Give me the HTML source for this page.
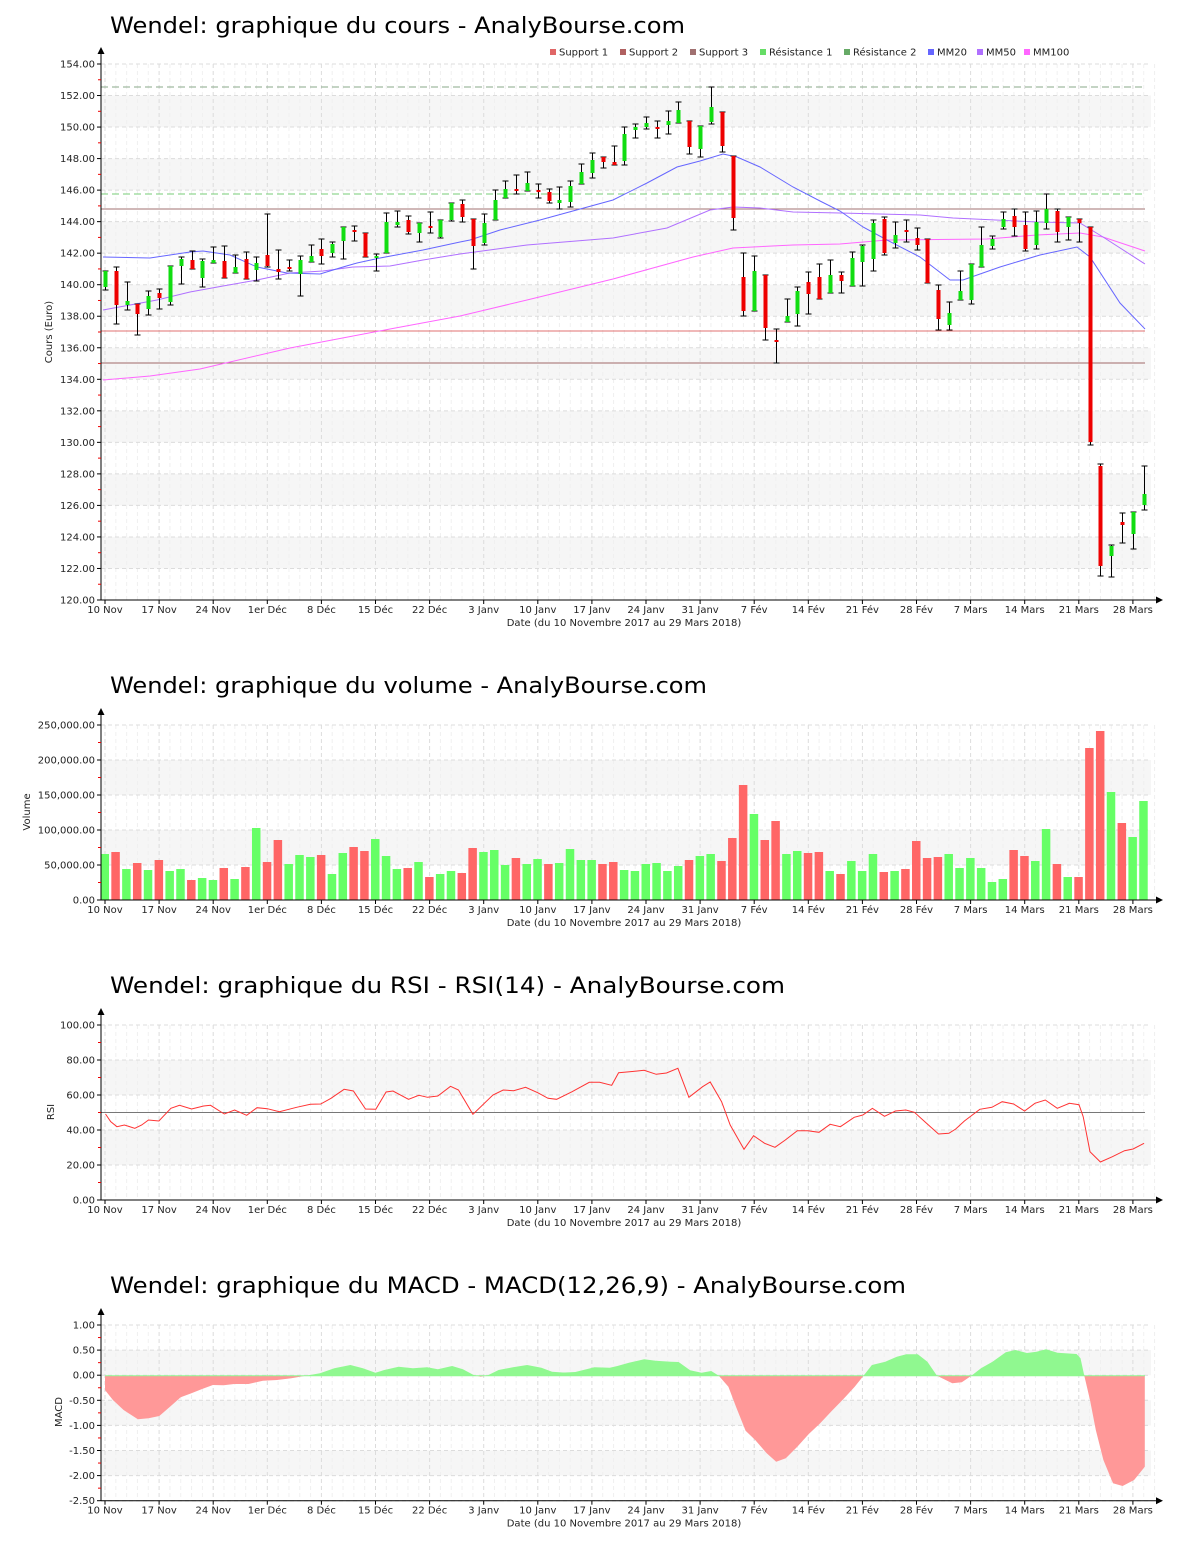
<!DOCTYPE html>
<html><head><meta charset="utf-8"><style>
html,body{margin:0;padding:0;background:#fff;}
svg{display:block;font-family:"DejaVu Sans","Liberation Sans",sans-serif;}
</style></head><body>
<svg id="s" width="1200" height="1550" viewBox="0 0 1200 1550" xmlns="http://www.w3.org/2000/svg"></svg>
<script>
const S=document.getElementById('s');let h='';
const X=i=>105+10.82*i;
const dates=[[0,'10 Nov'],[5,'17 Nov'],[10,'24 Nov'],[15,'1er Déc'],[20,'8 Déc'],[25,'15 Déc'],[30,'22 Déc'],[35,'3 Janv'],[40,'10 Janv'],[45,'17 Janv'],[50,'24 Janv'],[55,'31 Janv'],[60,'7 Fév'],[65,'14 Fév'],[70,'21 Fév'],[75,'28 Fév'],[80,'7 Mars'],[85,'14 Mars'],[90,'21 Mars'],[95,'28 Mars']];
function chart(c){
 const Y=v=>c.y0+(v-c.v0)*(c.y1-c.y0)/(c.v1-c.v0);
 const top=c.y1,bot=c.y0;
 c.bands.forEach(b=>{h+=`<rect x="101" y="${Y(b[1])}" width="1050" height="${Y(b[0])-Y(b[1])}" fill="#f6f6f6"/>`;});
 for(let i=0;i<=97;i++){if(i%5==0)continue;h+=`<line x1="${X(i)}" y1="${top}" x2="${X(i)}" y2="${bot}" stroke="#f0f0f0" stroke-dasharray="4,3"/>`;}
 dates.forEach(d=>{h+=`<line x1="${X(d[0])}" y1="${top}" x2="${X(d[0])}" y2="${bot}" stroke="#dcdcdc" stroke-dasharray="4,3"/>`;});
 for(let v=c.v0;v<=c.v1+1e-9;v+=c.step){h+=`<line x1="101" y1="${Y(v)}" x2="1151" y2="${Y(v)}" stroke="#dcdcdc" stroke-dasharray="4,3"/>`;}
 c.draw(Y);
 h+=`<line x1="101" y1="${top-12}" x2="101" y2="${bot}" stroke="#000"/>`;
 h+=`<polygon points="101,${top-17} 97.5,${top-10} 104.5,${top-10}" fill="#000"/>`;
 h+=`<line x1="101" y1="${bot}" x2="1157" y2="${bot}" stroke="#000"/>`;
 h+=`<polygon points="1163,${bot} 1156,${bot-3.5} 1156,${bot+3.5}" fill="#000"/>`;
 for(let v=c.v0;v<=c.v1+1e-9;v+=c.step){const y=Y(v);h+=`<line x1="97" y1="${y}" x2="101" y2="${y}" stroke="#000"/>`;
  h+=`<text x="95" y="${y+3.5}" font-size="10" text-anchor="end" fill="#222">${c.fmt(v)}</text>`;
  const m=v+c.step/2; if(m<c.v1){h+=`<line x1="98" y1="${Y(m)}" x2="101" y2="${Y(m)}" stroke="#e00"/>`;}}
 dates.forEach(d=>{h+=`<line x1="${X(d[0])}" y1="${bot}" x2="${X(d[0])}" y2="${bot+4}" stroke="#000"/>`;
  h+=`<text x="${X(d[0])}" y="${bot+13}" font-size="10" text-anchor="middle" fill="#222">${d[1]}</text>`;});
 h+=`<text x="624" y="${bot+26}" font-size="10" text-anchor="middle" fill="#222">Date (du 10 Novembre 2017 au 29 Mars 2018)</text>`;
 h+=`<text transform="translate(${c.ax},${c.ay}) rotate(-90)" font-size="10" text-anchor="middle" fill="#222">${c.yt}</text>`;
 h+=`<text x="110" y="${c.ty}" font-size="22" fill="#000" textLength="${c.tw}" lengthAdjust="spacingAndGlyphs">${c.title}</text>`;
}
const C=[[271,287,271,290,'g'],[271,305,267,324,'r'],[301,305,282,310,'g'],[304,314,304,335,'r'],[296,309,291,315,'g'],[293,298,289,309,'r'],[266,302,266,305,'g'],[259,266,257,284,'g'],[260,269,251,269,'r'],[261,278,259,287,'g'],[260,263,247,263,'g'],[261,278,246,278,'r'],[267,273,255,273,'g'],[259,279,252,279,'r'],[263,270,257,281,'g'],[255,266,214,267,'r'],[269,272,250,279,'r'],[267,269,260,271,'r'],[260,274,256,296,'g'],[256,262,245,262,'g'],[249,256,239,264,'r'],[244,253,242,257,'g'],[227,241,227,259,'g'],[230,232,226,241,'r'],[233,257,233,257,'r'],[256,258,254,271,'g'],[222,253,213,253,'g'],[222,225,211,227,'g'],[220,232,216,234,'r'],[223,233,223,242,'g'],[226,228,212,233,'r'],[220,237,220,238,'g'],[203,220,203,221,'g'],[204,217,200,222,'r'],[219,246,219,269,'r'],[223,243,214,245,'g'],[200,220,190,220,'g'],[189,198,181,198,'g'],[189,191,175,194,'r'],[183,191,172,191,'g'],[190,191,184,198,'r'],[192,201,189,203,'r'],[200,203,187,209,'g'],[186,202,181,207,'g'],[172,184,164,184,'g'],[160,173,153,178,'g'],[157,162,157,168,'r'],[162,165,146,165,'r'],[134,161,127,165,'g'],[127,130,124,138,'g'],[123,127,117,129,'g'],[127,128,121,138,'r'],[121,125,111,134,'g'],[110,123,102,123,'g'],[121,147,121,154,'r'],[126,149,126,157,'g'],[107,122,87,124,'g'],[112,146,112,152,'r'],[156,218,156,230,'r'],[277,311,253,316,'r'],[271,311,256,311,'g'],[275,328,275,340,'r'],[340,342,329,363,'r'],[316,322,299,322,'g'],[291,314,287,326,'g'],[282,294,272,314,'r'],[277,299,264,299,'r'],[275,293,260,293,'g'],[275,281,272,293,'r'],[258,286,252,286,'g'],[246,262,245,286,'g'],[223,259,220,271,'g'],[219,253,217,255,'r'],[235,243,222,248,'g'],[230,232,220,242,'r'],[238,245,228,250,'r'],[239,283,239,283,'r'],[290,319,285,330,'r'],[313,325,302,330,'g'],[291,300,271,300,'g'],[264,300,264,304,'g'],[245,267,227,267,'g'],[239,246,236,249,'g'],[219,227,212,229,'g'],[216,227,209,236,'r'],[225,249,212,251,'r'],[222,245,211,249,'g'],[209,223,194,229,'g'],[211,232,209,242,'r'],[217,227,217,240,'g'],[219,223,219,242,'r'],[227,442,227,445,'r'],[466,566,464,576,'r'],[546,556,545,577,'g'],[522,525,513,543,'r'],[512,534,512,549,'g'],[494,505,466,510,'g']];
const mm20=[[103,257],[150,258],[190,252],[203,251],[230,255],[257,267],[287,273],[320,274],[343,267],[357,263],[380,258],[423,250],[460,242],[470,240],[500,230],[540,220],[613,200],[647,183],[677,167],[700,161],[723,154],[737,157],[760,167],[793,187],[820,201],[840,211],[863,227],[887,240],[920,257],[950,280],[963,280],[1000,267],[1040,255],[1077,247],[1090,257],[1120,303],[1145,329]];
const mm50=[[103,310],[157,300],[190,292],[223,286],[257,280],[290,273],[323,271],[353,267],[390,266],[423,260],[460,254],[527,245],[613,238],[667,228],[710,210],[733,207],[760,208],[793,212],[840,213],[920,215],[953,218],[1037,222],[1080,223],[1103,237],[1145,264]];
const mm100=[[103,380],[150,376],[200,369],[290,348],[390,329],[460,316],[527,300],[613,279],[693,257],[733,248],[793,245],[840,244],[887,240],[987,239],[1037,235],[1080,233],[1103,237],[1145,251]];
const pl=a=>a.map(p=>p.join(',')).join(' ');
chart({y0:600,v0:120,y1:64,v1:154,step:2,fmt:v=>v.toFixed(2),bands:[[150,152],[146,148],[142,144],[138,140],[134,136],[130,132],[126,128],[122,124]],
 ax:52,ay:332,yt:'Cours (Euro)',ty:33,tw:575,title:'Wendel: graphique du cours - AnalyBourse.com',
 draw:Y=>{
  h+=`<line x1="101" y1="87" x2="1145" y2="87" stroke="#8aa88a" stroke-dasharray="7,4"/>`;
  h+=`<line x1="101" y1="194" x2="1145" y2="194" stroke="#77cc77" stroke-dasharray="7,4"/>`;
  h+=`<line x1="101" y1="209" x2="1145" y2="209" stroke="#a07070"/>`;
  h+=`<line x1="101" y1="331" x2="1145" y2="331" stroke="#e07070"/>`;
  h+=`<line x1="101" y1="363" x2="1145" y2="363" stroke="#a06868"/>`;
  h+=`<polyline points="${pl(mm100)}" fill="none" stroke="#ff66ff"/>`;
  h+=`<polyline points="${pl(mm50)}" fill="none" stroke="#b070ff"/>`;
  h+=`<polyline points="${pl(mm20)}" fill="none" stroke="#6666ff"/>`;
  C.forEach((c,i)=>{const x=Math.round(X(i))+0.5;
   h+=`<line x1="${x}" y1="${c[2]}" x2="${x}" y2="${c[3]}" stroke="#000"/>`;
   h+=`<line x1="${x-3}" y1="${c[2]}" x2="${x+3}" y2="${c[2]}" stroke="#000"/><line x1="${x-3}" y1="${c[3]}" x2="${x+3}" y2="${c[3]}" stroke="#000"/>`;
   h+=`<rect x="${x-2}" y="${c[0]}" width="4" height="${Math.max(2,c[1]-c[0])}" fill="${c[4]=='g'?'#11dd11':'#ee0000'}"/>`;});
  const lg=[[550,'#e06666','Support 1'],[620,'#b06060','Support 2'],[690,'#a07070','Support 3'],[760,'#66dd66','Résistance 1'],[844,'#66aa66','Résistance 2'],[928,'#6666ff','MM20'],[977,'#b070ff','MM50'],[1024,'#ff66ff','MM100']];
  lg.forEach(l=>{h+=`<rect x="${l[0]}" y="49" width="6" height="6" fill="${l[1]}"/><text x="${l[0]+9}" y="55.5" font-size="10" fill="#222">${l[2]}</text>`;});
 }});
const V=[[432,'g'],[426,'r'],[477,'g'],[459,'r'],[480,'g'],[450,'r'],[483,'g'],[477,'g'],[510,'r'],[504,'g'],[510,'g'],[474,'r'],[507,'g'],[471,'r'],[354,'g'],[456,'r'],[390,'r'],[462,'g'],[435,'g'],[441,'g'],[435,'r'],[492,'g'],[429,'g'],[411,'r'],[423,'r'],[387,'g'],[438,'g'],[477,'g'],[474,'r'],[456,'g'],[501,'r'],[492,'g'],[483,'g'],[489,'r'],[414,'r'],[426,'g'],[420,'g'],[465,'g'],[444,'r'],[462,'g'],[447,'g'],[462,'r'],[459,'g'],[417,'g'],[450,'g'],[450,'g'],[462,'r'],[456,'r'],[480,'g'],
[483,'g'],[462,'g'],[459,'g'],[483,'g'],[468,'g'],[450,'r'],[438,'g'],[432,'g'],[453,'r'],[384,'r'],[225,'r'],[312,'g'],[390,'r'],[333,'r'],[432,'g'],[423,'g'],[429,'r'],[426,'r'],[483,'g'],[492,'r'],[453,'g'],[483,'g'],[432,'g'],[486,'r'],[483,'g'],[477,'r'],[393,'r'],[444,'r'],[441,'r'],[432,'g'],[474,'g'],[444,'g'],[474,'g'],[516,'g'],[507,'g'],[420,'r'],[438,'r'],[453,'g'],[357,'g'],[462,'r'],[501,'g'],[501,'r'],[114,'r'],[63,'r'],[246,'g'],[339,'r'],[381,'g'],[273,'g']];
chart({y0:900,v0:0,y1:725,v1:250000,step:50000,fmt:v=>v.toLocaleString('en-US')+'.00',bands:[[150000,200000],[50000,100000]],
 ax:30,ay:812,yt:'Volume',ty:693,tw:597,title:'Wendel: graphique du volume - AnalyBourse.com',
 draw:Y=>{V.forEach((v,i)=>{const y=710+v[0]/3;h+=`<rect x="${X(i)-4.5}" y="${y}" width="8.5" height="${900-y}" fill="${v[1]=='g'?'#66ff66':'#ff6666'}"/>`;});}});
const r1=[[45,312],[60,335],[78,350],[100,345],[130,355],[150,345],[170,330],[200,333],[235,295],[260,286],[295,297],[330,288],[350,286],[390,312],[420,300],[455,316],[485,293],[515,296],[550,305],[600,292],[640,283],[670,282],[700,265],[738,238],[765,243],[800,297],[830,298],[860,246],[880,243],[925,268],[955,256],[980,262],[1010,258],[1047,229],[1070,240],[1112,313],[1170,255],[1200,240],[1230,242],[1265,232],[1300,248],[1330,265],[1355,268],[1400,245],[1450,217],[1480,217],[1515,226],[1535,188]].map(p=>[90+p[0]/2.904,1010+p[1]/3]);
const r2=[[20,186],[70,181],[105,193],[135,189],[168,175],[200,262],[240,230],[262,216],[295,275],[320,345],[360,418],[388,377],[420,400],[450,412],[480,390],[515,362],[545,362],[578,367],[610,343],[640,350],[680,322],[705,315],[733,295],[768,319],[800,303],[830,300],[855,307],[890,340],[925,372],[955,370],[975,357],[1000,333],[1045,298],[1080,292],[1110,275],[1143,282],[1175,303],[1205,280],[1235,270],[1270,295],[1305,280],[1333,284],[1345,320],[1365,425],[1395,456],[1430,440],[1465,422],[1490,417],[1522,400]].map(p=>[620+p[0]/2.904,1010+p[1]/3]);
chart({y0:1200,v0:0,y1:1025,v1:100,step:20,fmt:v=>v.toFixed(2),bands:[[60,80],[20,40]],
 ax:54,ay:1112,yt:'RSI',ty:993,tw:675,title:'Wendel: graphique du RSI - RSI(14) - AnalyBourse.com',
 draw:Y=>{h+=`<line x1="101" y1="1112.5" x2="1145" y2="1112.5" stroke="#777"/>`;
  h+=`<polyline points="${pl(r1.concat(r2).map(p=>[p[0].toFixed(1),p[1].toFixed(1)]))}" fill="none" stroke="#ff3333"/>`;}});
const m1=[[238,240],[260,270],[290,300],[330,328],[360,325],[390,318],[420,290],[450,262],[480,250],[510,237],[540,225],[570,226],[600,222],[640,222],[680,212],[720,210],[760,205],[800,197],[840,190],[880,175],[925,165],[960,175],[995,188],[1020,180],[1060,170],[1100,175],[1140,172],[1170,178],[1210,168],[1240,178],[1270,195],[1290,200],[1310,196],[1340,180],[1380,172],[1420,165],[1460,173],[1490,185],[1530,188]].map(p=>[20+p[0]/2.8,1310+p[1]/3]);
const m2=[[0,188],[40,186],[90,172],[130,173],[150,168],[180,158],[220,148],[250,152],[290,155],[310,156],[340,181],[370,188],[395,183],[415,197],[440,230],[460,290],[485,362],[510,390],[540,430],[565,455],[590,445],[620,410],[650,372],[680,340],[710,303],[740,268],[770,230],[793,197],[815,165],[850,155],[880,140],[905,133],[935,133],[960,155],[985,197],[1025,220],[1050,217],[1075,197],[1100,175],[1130,155],[1165,127],[1190,120],[1220,129],[1245,125],[1270,118],[1300,128],[1350,132],[1360,145],[1370,197],[1385,270],[1400,360],[1420,450],[1445,520],[1470,528],[1500,510],[1528,470]].map(p=>[560+p[0]/2.613,1310+p[1]/3]);
chart({y0:1500.7,v0:-2.5,y1:1325,v1:1,step:0.5,fmt:v=>v.toFixed(2),bands:[[0,0.5],[-1,-0.5],[-2,-1.5]],
 ax:62,ay:1412,yt:'MACD',ty:1293,tw:796,title:'Wendel: graphique du MACD - MACD(12,26,9) - AnalyBourse.com',
 draw:Y=>{const z=1375.7;const pts=m1.concat(m2);
  const poly=`${pts[0][0].toFixed(1)},${z} `+pts.map(p=>p[0].toFixed(1)+','+p[1].toFixed(1)).join(' ')+` ${pts[pts.length-1][0].toFixed(1)},${z}`;
  h+=`<defs><clipPath id="ca"><rect x="0" y="0" width="1200" height="${z}"/></clipPath><clipPath id="cb"><rect x="0" y="${z}" width="1200" height="300"/></clipPath></defs>`;
  h+=`<polygon points="${poly}" fill="#90f890" clip-path="url(#ca)"/>`;
  h+=`<polygon points="${poly}" fill="#ff9898" clip-path="url(#cb)"/>`;
  h+=`<line x1="105" y1="${z}" x2="1145" y2="${z}" stroke="#90f890"/>`;}});
S.innerHTML=h;
</script>
</body></html>
